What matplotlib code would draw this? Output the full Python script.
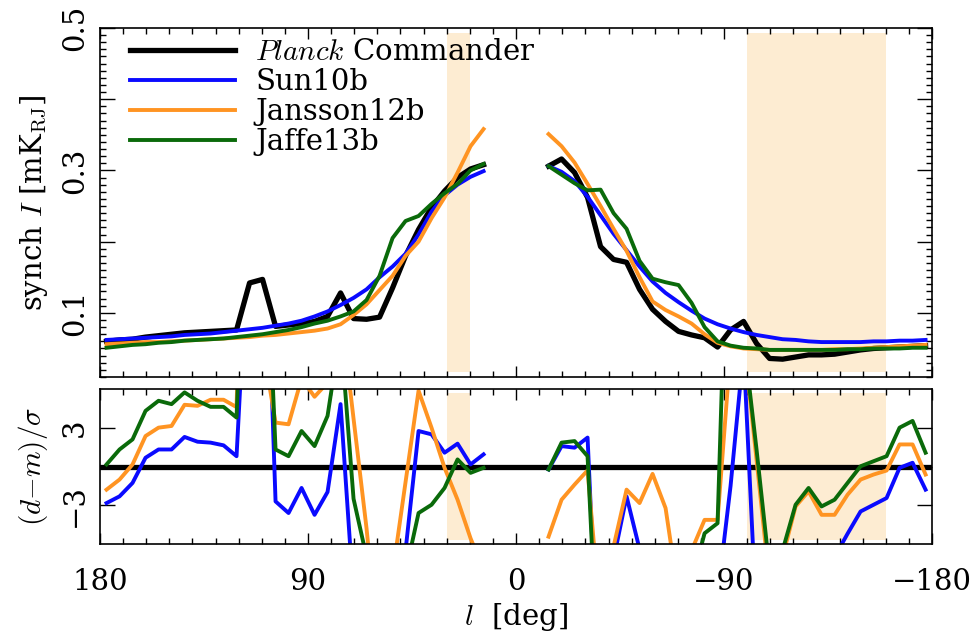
import numpy as np
import matplotlib.pyplot as plt
from matplotlib.ticker import MultipleLocator

plt.rcParams['font.family'] = ['DejaVu Serif']
plt.rcParams['mathtext.fontset'] = 'cm'

# longitude bins (64 bins of 5.625 deg, 4 around l=0 missing)
lon_all = 180 - 5.625 * (np.arange(64) + 0.5)
lon_left = lon_all[:30]
lon_right = lon_all[34:]

# top panel: synchrotron intensity [mK_RJ]
planck_left = [0.060, 0.062, 0.063, 0.066, 0.068, 0.070, 0.072, 0.073, 0.074, 0.075,
               0.076, 0.142, 0.147, 0.081, 0.083, 0.085, 0.088, 0.095, 0.128, 0.092,
               0.091, 0.094, 0.135, 0.180, 0.217, 0.248, 0.271, 0.290, 0.302, 0.308]
planck_right = [0.306, 0.316, 0.297, 0.262, 0.193, 0.175, 0.171, 0.133, 0.105, 0.088,
                0.074, 0.069, 0.065, 0.052, 0.076, 0.088, 0.057, 0.036, 0.035, 0.038,
                0.041, 0.041, 0.042, 0.045, 0.048, 0.050, 0.051, 0.052, 0.053, 0.054]
sun_left = [0.062, 0.063, 0.064, 0.065, 0.066, 0.067, 0.069, 0.070, 0.071, 0.073,
            0.075, 0.077, 0.079, 0.082, 0.085, 0.089, 0.095, 0.102, 0.111, 0.121,
            0.133, 0.150, 0.165, 0.183, 0.210, 0.242, 0.265, 0.280, 0.291, 0.299]
sun_right = [0.306, 0.298, 0.285, 0.263, 0.237, 0.211, 0.188, 0.165, 0.144, 0.128,
             0.115, 0.103, 0.092, 0.084, 0.078, 0.073, 0.069, 0.066, 0.063, 0.062,
             0.060, 0.059, 0.059, 0.059, 0.059, 0.060, 0.060, 0.061, 0.061, 0.062]
jansson_left = [0.056, 0.057, 0.058, 0.059, 0.059, 0.060, 0.061, 0.062, 0.063, 0.064,
                0.065, 0.066, 0.068, 0.069, 0.071, 0.073, 0.075, 0.078, 0.084, 0.097,
                0.112, 0.132, 0.152, 0.180, 0.200, 0.233, 0.262, 0.297, 0.334, 0.358]
jansson_right = [0.351, 0.334, 0.311, 0.281, 0.250, 0.218, 0.187, 0.150, 0.116, 0.104,
                 0.095, 0.085, 0.070, 0.058, 0.053, 0.050, 0.049, 0.048, 0.048, 0.048,
                 0.048, 0.048, 0.049, 0.049, 0.050, 0.051, 0.052, 0.053, 0.054, 0.055]
jaffe_left = [0.051, 0.053, 0.055, 0.056, 0.058, 0.059, 0.061, 0.062, 0.063, 0.064,
              0.066, 0.068, 0.070, 0.073, 0.076, 0.080, 0.085, 0.089, 0.095, 0.102,
              0.118, 0.152, 0.205, 0.229, 0.236, 0.253, 0.268, 0.281, 0.300, 0.309]
jaffe_right = [0.306, 0.294, 0.282, 0.272, 0.273, 0.240, 0.218, 0.173, 0.148, 0.143,
               0.139, 0.114, 0.080, 0.060, 0.054, 0.051, 0.050, 0.048, 0.048, 0.048,
               0.048, 0.048, 0.048, 0.049, 0.049, 0.050, 0.050, 0.050, 0.051, 0.051]

# bottom panel: (d-m)/sigma
sun_res_left = [-2.83, -2.31, -1.27, 0.68, 1.32, 1.32, 2.29, 1.92, 1.85, 1.64,
                0.80, 20, 27, -2.70, -3.6, -1.66, -3.74, -1.97, 4.83, -10,
                -12, -12, -12, -6.5, 2.75, 2.49, 1.07, 1.77, 0.16, 0.94]
sun_res_right = [-0.23, 1.58, 1.46, 2.24, -20, -7.2, -2.31, -6.4, -20, -20,
                 -20, -20, -20, -10, -1.5, 9, -12, -20, -20, -20,
                 -20, -20, -7, -5.2, -3.48, -2.96, -2.44, -0.1, 0.29, -1.79]
jansson_res_left = [-1.79, -1.01, 0.16, 2.36, 3.01, 3.14, 4.78, 4.70, 5.17, 5.17,
                    4.6, 40, 9.5, 3.4, 3.27, 6.8, 5.4, 6.5, 12.3, 3.7,
                    -4.8, -15, -8.3, -1.2, 5.87, 3.0, -0.1, -2.57, -5.56, -8]
jansson_res_right = [-5.43, -2.57, -1.4, -0.3, -12, -6.2, -1.79, -2.83, -0.57, -3.22,
                     -10, -6.5, -4.13, -4.13, 9, 10, 0.5, -9, -7, -3.09,
                     -1.92, -3.74, -3.74, -2.18, -1.01, -0.62, -0.31, 1.71, 1.71, -0.62]
jaffe_res_left = [0.16, 1.32, 2.1, 4.31, 5.09, 4.83, 5.74, 5.09, 4.62, 4.62,
                  3.79, 30, 25, 1.32, 0.8, 2.75, 1.58, 3.92, 10.5, -2.5,
                  -7, -20, -20, -8.2, -3.6, -2.96, -1.66, 0.55, -0.49, -0.1]
jaffe_res_right = [-0.23, 1.85, 1.97, 0.8, -20, -20, -20, -20, -20, -20,
                   -20, -9, -5.17, -4.39, 28, 10, 1.3, -8, -6.5, -2.96,
                   -1.66, -3.09, -2.57, -1.27, 0.02, 0.41, 0.80, 3.01, 3.53, 1.07]

masks = [(20, 30), (-160, -100)]
shade = '#fdecd2'
c_blue, c_orange, c_green = '#0a0aff', '#ff9422', '#0a6a0a'

fig = plt.figure(figsize=(9.76, 6.41), dpi=100)
ax1 = fig.add_axes([0.1025, 0.4119, 0.8525, 0.5445])
ax2 = fig.add_axes([0.1025, 0.1513, 0.8525, 0.2418])

for lo, hi in masks:
    ax1.axvspan(lo, hi, ymin=0.015, ymax=0.985, color=shade, lw=0, zorder=0)
    ax2.axvspan(lo, hi, ymin=0.025, ymax=0.975, color=shade, lw=0, zorder=0)

series = [('$\\mathit{Planck}$ Commander', 'k', 3.8, planck_left, planck_right),
          ('Sun10b', c_blue, 2.8, sun_left, sun_right),
          ('Jansson12b', c_orange, 2.8, jansson_left, jansson_right),
          ('Jaffe13b', c_green, 2.8, jaffe_left, jaffe_right)]
for name, col, lw, left, right in series:
    ax1.plot(lon_left, left, color=col, lw=lw, label=name)
    ax1.plot(lon_right, right, color=col, lw=lw)

ax2.axhline(0, color='k', lw=3.8)
res = [(c_blue, sun_res_left, sun_res_right),
       (c_orange, jansson_res_left, jansson_res_right),
       (c_green, jaffe_res_left, jaffe_res_right)]
for col, left, right in res:
    ax2.plot(lon_left, left, color=col, lw=2.8)
    ax2.plot(lon_right, right, color=col, lw=2.8)

for ax in (ax1, ax2):
    ax.set_xlim(180, -180)
    ax.xaxis.set_major_locator(MultipleLocator(90))
    ax.xaxis.set_minor_locator(MultipleLocator(10))
    ax.tick_params(which='both', direction='in', top=True, right=True, width=1)
    ax.tick_params(which='major', length=8)
    ax.tick_params(which='minor', length=4)
    for s in ax.spines.values():
        s.set_linewidth(1.2)

ax1.set_ylim(0.01, 0.5)
ax1.set_yticks([0.1, 0.2, 0.3, 0.4, 0.5])
ax1.yaxis.set_minor_locator(MultipleLocator(0.01))
ax1.set_yticklabels(['0.1', '', '0.3', '', '0.5'], rotation=90, va='center')
ax1.tick_params(axis='y', which='major', length=11, labelsize=21, pad=8)
ax1.set_xticklabels([])
ax1.set_ylabel('synch $I$ [mK$_{\\rm RJ}$]', fontsize=21)
ax1.yaxis.set_label_coords(-0.06, 0.5)

leg = ax1.legend(loc='upper left', frameon=False, fontsize=21, handlelength=3.6,
                 handletextpad=0.7, labelspacing=0.07, borderaxespad=0.0,
                 bbox_to_anchor=(0.022, 1.005))

ax2.set_ylim(-6, 6)
ax2.set_yticks([-3, 0, 3])
ax2.set_yticklabels(['\u22123', '', '3'], rotation=90, va='center')
ax2.tick_params(axis='y', which='major', length=11, labelsize=21, pad=8)
ax2.set_xticks([180, 90, 0, -90, -180])
ax2.set_xticklabels(['180', '90', '0', '\u221290', '\u2212180'])
ax2.tick_params(axis='x', labelsize=21, pad=17)
ax2.set_ylabel('$(d{-}m)/\\sigma$', fontsize=21)
ax2.yaxis.set_label_coords(-0.06, 0.5)
ax2.set_xlabel('$l$  [deg]', fontsize=21)
ax2.xaxis.set_label_coords(0.5, -0.37)

plt.savefig('out.png', dpi=100)
plt.close()
